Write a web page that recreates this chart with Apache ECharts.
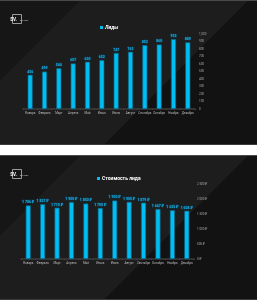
<!DOCTYPE html>
<html>
<head>
<meta charset="utf-8">
<script src="https://cdn.jsdelivr.net/npm/echarts@6/dist/echarts.min.js"></script>
<style>
  html, body { margin: 0; padding: 0; background: #fff; }
  .slide {
    position: absolute; left: 0; width: 257px; height: 145px;
    box-sizing: border-box;
    border-top: 1px solid #4a4a4a;
    border-bottom: 1px solid #3a3a3a;
    background: linear-gradient(135deg, #161616 0%, #161616 20%, #1d1d1d 20%, #1d1d1d 62%, #121212 62%, #121212 100%);
  }
</style>
</head>
<body>
<div id="leads" class="slide" style="top:0"></div>
<div id="cost" class="slide" style="top:155px"></div>

<script>
// данные
const months = ['Январь', 'Февраль', 'Март', 'Апрель', 'Май', 'Июнь', 'Июль', 'Август', 'Сентябрь', 'Октябрь', 'Ноябрь', 'Декабрь'];
const leads = [456, 499, 544, 607, 630, 652, 747, 763, 852, 860, 932, 889];
const leadCost = [1786, 1827, 1710, 1900, 1850, 1700, 1950, 1905, 1879, 1667, 1625, 1608];

const FONT = 'Roboto';
const fmtRub = v => String(v).replace(/\B(?=(\d{3})+(?!\d))/g, ' ') + ' ₽';

// логотип
function logo() {
  return [
    { type: 'rect', left: 10, top: 11, z: 10, shape: { width: 9, height: 9 }, style: { fill: 'none', stroke: '#bbb', lineWidth: 0.8 } },
    { type: 'text', left: 10.3, top: 16, z: 11, style: { text: 'SV.', fill: '#fff', fontSize: 4.5, fontWeight: 'bold', fontFamily: FONT } },
    { type: 'text', left: 19.8, top: 18.3, z: 11, style: { text: 'DIGITAL', fill: '#bbb', fontSize: 2.4, fontFamily: FONT } }
  ];
}

function makeOption(cfg) {
  return {
    animation: false,
    textStyle: { fontFamily: FONT },
    graphic: logo(),
    legend: {
      data: [cfg.name],
      left: cfg.legendLeft,
      top: cfg.legendTop,
      padding: 0,
      itemWidth: 3,
      itemHeight: 3,
      icon: 'rect',
      itemStyle: { borderWidth: 0, color: '#00bdf2' },
      textStyle: { color: '#fff', fontSize: 5, fontWeight: 'bold', fontStyle: cfg.italic ? 'italic' : 'normal', padding: [0, 0, 0, -3] }
    },
    grid: cfg.grid,
    xAxis: {
      type: 'category',
      data: months,
      axisLine: { lineStyle: { color: '#3c3c3c', width: 1.5 } },
      axisTick: { show: true, length: 1, lineStyle: { color: '#444' } },
      axisLabel: { interval: 0, fontSize: 3, color: '#bbb', margin: 2.5 }
    },
    yAxis: {
      type: 'value',
      position: 'right',
      min: 0,
      max: cfg.max,
      interval: cfg.interval,
      splitLine: { show: false },
      axisLine: { show: false },
      axisTick: { show: false },
      axisLabel: { fontSize: 3, color: '#aaa', margin: cfg.yMargin, formatter: cfg.yFmt }
    },
    series: [{
      name: cfg.name,
      type: 'bar',
      data: cfg.data,
      barWidth: 5,
      itemStyle: { color: '#00bdf2', borderColor: '#0a6a8c', borderWidth: 0.7 },
      label: {
        show: true,
        position: 'top',
        distance: 1,
        fontSize: 3.5,
        fontWeight: 'bold',
        color: '#1eaadf',
        textBorderColor: '#0b3d52',
        textBorderWidth: 1,
        formatter: cfg.labelFmt
      }
    }]
  };
}

const chart1 = echarts.init(document.getElementById('leads'));
chart1.setOption(makeOption({
  name: 'Лиды',
  italic: true,
  data: leads,
  legendLeft: 100,
  legendTop: 24,
  grid: { left: 23, right: 62, top: 33, bottom: 35 },
  max: 1000,
  interval: 100,
  yMargin: 4,
  yFmt: '{value}',
  labelFmt: '{c}'
}));

const chart2 = echarts.init(document.getElementById('cost'));
chart2.setOption(makeOption({
  name: 'Стоимость лида',
  italic: false,
  data: leadCost,
  legendLeft: 97,
  legendTop: 20,
  grid: { left: 21, right: 63, top: 28, bottom: 40 },
  max: 2500,
  interval: 500,
  yMargin: 3,
  yFmt: v => fmtRub(v),
  labelFmt: p => fmtRub(p.value)
}));
</script>
</body>
</html>
